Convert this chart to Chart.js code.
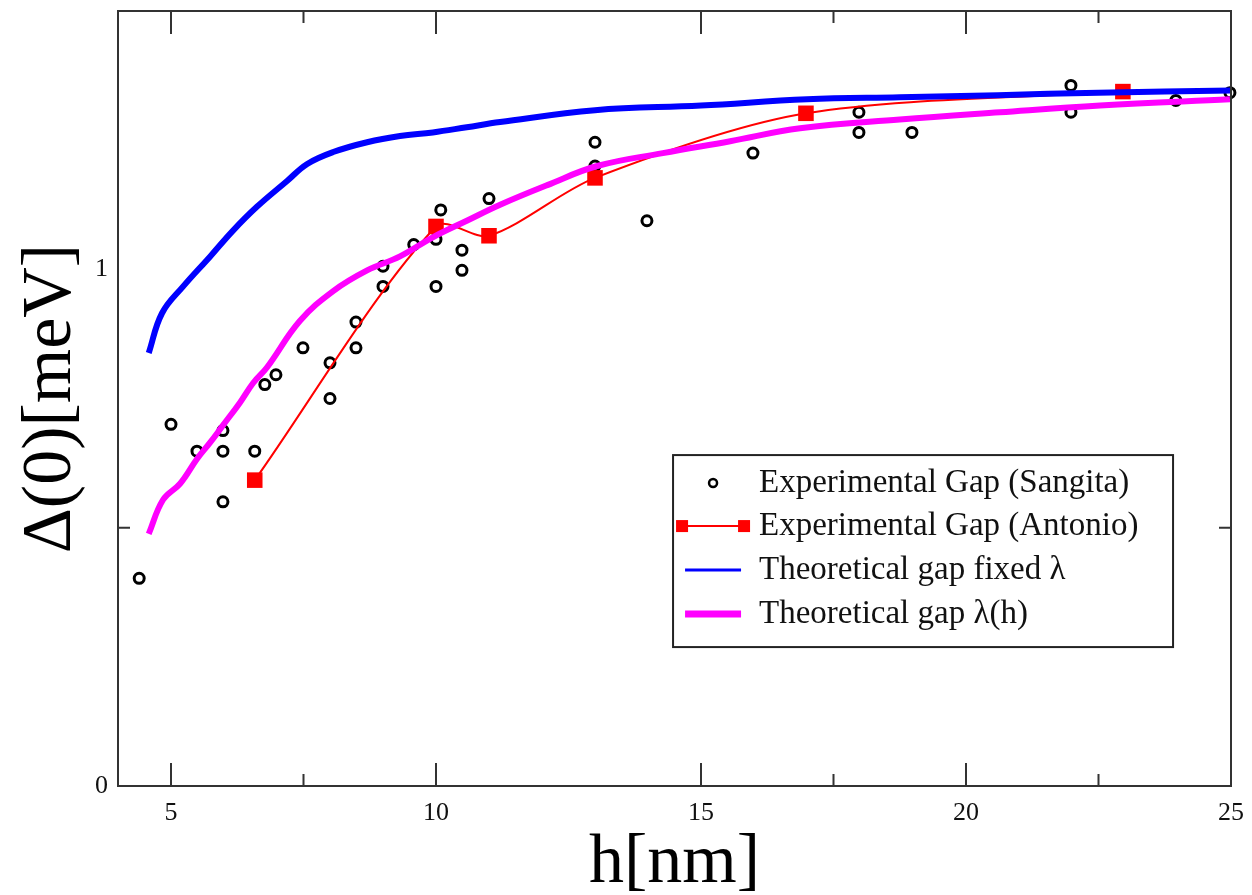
<!DOCTYPE html>
<html>
<head>
<meta charset="utf-8">
<title>Gap vs thickness</title>
<script src="https://cdn.jsdelivr.net/npm/chart.js@4.4.0/dist/chart.umd.min.js"></script>
<style>
  html, body { margin: 0; padding: 0; background: #fff; }
  #wrap { width: 1252px; height: 895px; }
</style>
</head>
<body>
<div id="wrap"><canvas id="gapChart" width="1252" height="895"></canvas></div>
<script>
// DATA ================================================================

// Experimental Gap (Sangita) - open circles
var sangitaH   = [4.40, 5.00, 5.49, 5.98, 5.98, 5.98, 6.58, 6.77, 6.98, 7.49, 8.00, 8.00, 8.49, 8.49, 9.00, 9.00, 9.58, 10.00, 10.00, 10.09, 10.49, 10.49, 11.00, 13.00, 13.00, 13.98, 15.98, 17.98, 17.98, 18.98, 21.98, 21.98, 23.96, 24.98];
var sangitaGap = [0.402, 0.700, 0.648, 0.688, 0.648, 0.550, 0.648, 0.777, 0.796, 0.848, 0.819, 0.750, 0.898, 0.848, 0.967, 1.006, 1.048, 1.058, 0.967, 1.115, 1.037, 0.998, 1.137, 1.246, 1.200, 1.094, 1.225, 1.265, 1.304, 1.265, 1.356, 1.304, 1.327, 1.342];

// Experimental Gap (Antonio) - red squares with line
var antonioH   = [6.58, 10.00, 11.00, 13.00, 16.98, 22.96];
var antonioGap = [0.592, 1.083, 1.065, 1.177, 1.302, 1.344];

// Theoretical gap fixed lambda - blue
var fixedH   = [4.58, 4.83, 5.23, 5.74, 6.17, 6.62, 7.19, 7.57, 8.06, 8.70, 9.32, 9.94, 10.58, 11.21, 13.0, 15.0, 17.0, 18.75, 20.6, 22.5, 25.0];
var fixedGap = [0.838, 0.915, 0.967, 1.025, 1.075, 1.121, 1.171, 1.204, 1.227, 1.246, 1.258, 1.265, 1.275, 1.285, 1.308, 1.317, 1.329, 1.333, 1.337, 1.342, 1.346];

// Theoretical gap lambda(h) - magenta
var lambdaH   = [4.58, 4.85, 5.17, 5.49, 5.74, 5.98, 6.30, 6.55, 6.81, 7.43, 8.06, 8.70, 9.32, 9.94, 10.58, 11.21, 12.1, 13.04, 14.28, 15.55, 16.87, 18.75, 20.64, 22.53, 24.98];
var lambdaGap = [0.488, 0.554, 0.585, 0.633, 0.665, 0.698, 0.742, 0.780, 0.810, 0.900, 0.958, 0.998, 1.025, 1.062, 1.094, 1.125, 1.163, 1.200, 1.225, 1.248, 1.273, 1.290, 1.304, 1.317, 1.329];

// axis ticks
var xTicks = [5, 10, 15, 20, 25];
var xMinorTicks = [7.5, 17.5, 22.5];
var yTicks = [0, 1];
var yMinorTicks = [0.5];

var legendLabels = [
  "Experimental Gap (Sangita)",
  "Experimental Gap (Antonio)",
  "Theoretical gap fixed \u03bb",
  "Theoretical gap \u03bb(h)"
];

// =====================================================================

var SERIF = '"Liberation Serif", "Times New Roman", "DejaVu Serif", serif';
Chart.defaults.font.family = SERIF;
Chart.defaults.color = "#111";

function toPoints(xs, ys) {
  return xs.map(function (x, i) { return { x: x, y: ys[i] }; });
}

// frame + inward tick marks
var framePlugin = {
  id: "frame",
  afterDatasetsDraw: function (chart) {
    var ctx = chart.ctx, a = chart.chartArea;
    var xs = chart.scales.x, ys = chart.scales.y;
    ctx.save();
    ctx.strokeStyle = "#333";
    ctx.lineWidth = 2;
    ctx.strokeRect(a.left, a.top, a.right - a.left, a.bottom - a.top);
    ctx.beginPath();
    function xTick(v, len) {
      var px = xs.getPixelForValue(v);
      ctx.moveTo(px, a.bottom); ctx.lineTo(px, a.bottom - len);
      ctx.moveTo(px, a.top); ctx.lineTo(px, a.top + len);
    }
    function yTick(v, len) {
      var py = ys.getPixelForValue(v);
      ctx.moveTo(a.left, py); ctx.lineTo(a.left + len, py);
      ctx.moveTo(a.right, py); ctx.lineTo(a.right - len, py);
    }
    xTicks.forEach(function (v) { if (v < xs.max) xTick(v, 23); });
    xMinorTicks.forEach(function (v) { xTick(v, 12); });
    yMinorTicks.forEach(function (v) { yTick(v, 12); });
    ctx.stroke();
    ctx.restore();
  }
};

// boxed legend inside the plot
var boxLegendPlugin = {
  id: "boxLegend",
  afterDraw: function (chart) {
    var ctx = chart.ctx, a = chart.chartArea;
    var bx = a.left + 0.4987 * (a.right - a.left);
    var by = a.top + 0.573 * (a.bottom - a.top);
    var bw = 500, bh = 192;
    var rows = [28, 71, 115, 159];
    var symX = bx + 40, symHalf = 30, textX = bx + 86;

    ctx.save();
    ctx.fillStyle = "#fff";
    ctx.fillRect(bx, by, bw, bh);
    ctx.strokeStyle = "#222";
    ctx.lineWidth = 2;
    ctx.strokeRect(bx, by, bw, bh);

    // row 1: open circle
    ctx.beginPath();
    ctx.arc(symX, by + rows[0], 4, 0, Math.PI * 2);
    ctx.lineWidth = 2.5;
    ctx.strokeStyle = "#000";
    ctx.stroke();

    // row 2: red line with squares
    ctx.strokeStyle = "#ff0000";
    ctx.lineWidth = 2;
    ctx.beginPath();
    ctx.moveTo(symX - symHalf, by + rows[1]);
    ctx.lineTo(symX + symHalf, by + rows[1]);
    ctx.stroke();
    ctx.fillStyle = "#ff0000";
    ctx.fillRect(symX - symHalf - 7, by + rows[1] - 6, 12, 12);
    ctx.fillRect(symX + symHalf - 5, by + rows[1] - 6, 12, 12);

    // row 3: blue line
    ctx.strokeStyle = "#0000ff";
    ctx.lineWidth = 3;
    ctx.beginPath();
    ctx.moveTo(symX - symHalf + 2, by + rows[2]);
    ctx.lineTo(symX + symHalf - 2, by + rows[2]);
    ctx.stroke();

    // row 4: magenta line
    ctx.strokeStyle = "#ff00ff";
    ctx.lineWidth = 7;
    ctx.beginPath();
    ctx.moveTo(symX - symHalf + 2, by + rows[3]);
    ctx.lineTo(symX + symHalf - 2, by + rows[3]);
    ctx.stroke();

    ctx.fillStyle = "#111";
    ctx.font = "33px " + SERIF;
    ctx.textBaseline = "middle";
    ctx.textAlign = "left";
    legendLabels.forEach(function (t, i) {
      ctx.fillText(t, textX, by + rows[i]);
    });
    ctx.restore();
  }
};

var gapChart = new Chart(document.getElementById("gapChart"), {
  type: "scatter",
  data: {
    datasets: [
      {
        label: legendLabels[0],
        data: toPoints(sangitaH, sangitaGap),
        showLine: false,
        pointStyle: "circle",
        pointRadius: 5,
        pointBorderWidth: 3,
        pointBackgroundColor: "rgba(255,255,255,0)",
        pointBorderColor: "#000",
        clip: false,
        order: 4
      },
      {
        label: legendLabels[1],
        data: toPoints(antonioH, antonioGap),
        showLine: true,
        borderColor: "#ff0000",
        borderWidth: 2,
        tension: 0.3,
        pointStyle: "rect",
        pointRadius: 11,
        pointBackgroundColor: "#ff0000",
        pointBorderColor: "#ff0000",
        pointBorderWidth: 0,
        order: 3
      },
      {
        label: legendLabels[2],
        data: toPoints(fixedH, fixedGap),
        showLine: true,
        borderColor: "#0000ff",
        borderWidth: 6,
        tension: 0.4,
        pointRadius: 0,
        order: 2
      },
      {
        label: legendLabels[3],
        data: toPoints(lambdaH, lambdaGap),
        showLine: true,
        borderColor: "#ff00ff",
        borderWidth: 6,
        tension: 0.4,
        pointRadius: 0,
        order: 1
      }
    ]
  },
  options: {
    responsive: false,
    animation: false,
    layout: { padding: { top: 6, right: 21, left: 0, bottom: 0 } },
    plugins: {
      legend: { display: false },
      tooltip: { enabled: false }
    },
    scales: {
      x: {
        type: "linear",
        min: 4,
        max: 25,
        afterBuildTicks: function (s) {
          s.ticks = xTicks.map(function (v) { return { value: v }; });
        },
        afterFit: function (s) {
          s.height = 109;
          s.paddingLeft = 0;
          s.paddingRight = 0;
        },
        ticks: { font: { size: 26 }, color: "#111", padding: 12, maxRotation: 0 },
        grid: { drawOnChartArea: false, drawTicks: false },
        border: { color: "#333", width: 2 },
        title: {
          display: true,
          text: "h[nm]",
          color: "#000",
          font: { size: 70, lineHeight: 0.9 },
          padding: { top: 0, bottom: 0 }
        }
      },
      y: {
        type: "linear",
        min: 0,
        max: 1.5,
        afterBuildTicks: function (s) {
          s.ticks = yTicks.map(function (v) { return { value: v }; });
        },
        afterFit: function (s) {
          s.width = 118;
          s.paddingTop = 0;
          s.paddingBottom = 0;
        },
        ticks: { font: { size: 26 }, color: "#111", padding: 10 },
        grid: { drawOnChartArea: false, drawTicks: false },
        border: { color: "#333", width: 2 },
        title: {
          display: true,
          text: "\u0394(0)[meV]",
          color: "#000",
          font: { size: 70 },
          padding: { top: 10, bottom: 0 }
        }
      }
    }
  },
  plugins: [framePlugin, boxLegendPlugin]
});
</script>
</body>
</html>
